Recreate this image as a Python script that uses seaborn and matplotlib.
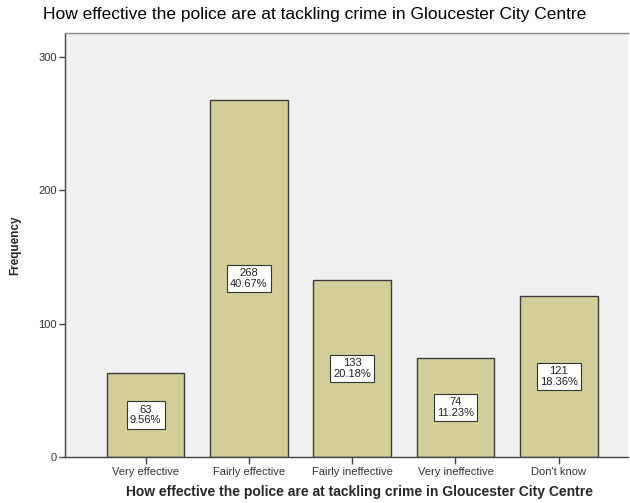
import pandas as pd
import matplotlib
matplotlib.use("Agg")
import matplotlib.pyplot as plt
import seaborn as sns

# data
categories = ["Very effective", "Fairly effective", "Fairly ineffective",
              "Very ineffective", "Don't know"]
counts = [63, 268, 133, 74, 121]
percents = ["9.56%", "40.67%", "20.18%", "11.23%", "18.36%"]

title = "How effective the police are at tackling crime in Gloucester City Centre"

df = pd.DataFrame({"Category": categories, "Frequency": counts})

sns.set_theme(style="white")
plt.rcParams["font.family"] = ["Liberation Sans", "DejaVu Sans"]

fig = plt.figure(figsize=(6.3, 5.03), dpi=100)
ax = fig.add_axes([65 / 630, 46 / 503, 563 / 630, 424 / 503])
ax.set_facecolor("#F0F0F0")

sns.barplot(data=df, x="Category", y="Frequency", order=categories,
            color="#D3CE97", saturation=1, width=0.75,
            edgecolor="#3A3A3A", linewidth=1.0, ax=ax)

# count / percent boxes in the middle of each bar
for i, (c, p) in enumerate(zip(counts, percents)):
    ax.text(i, c / 2, f"{c}\n{p}", ha="center", va="center",
            fontsize=8, color="#222222", linespacing=1.1,
            bbox=dict(boxstyle="square,pad=0.3", fc="white", ec="#333333", lw=0.8))

ax.set_xlim(-0.78, 4.67)
ax.set_ylim(0, 318)
ax.set_yticks([0, 100, 200, 300])

ax.spines["right"].set_visible(False)
ax.spines["top"].set_color("#888888")
ax.spines["left"].set_color("#444444")
ax.spines["bottom"].set_color("#444444")
for s in ["top", "left", "bottom"]:
    ax.spines[s].set_linewidth(1.0)

ax.tick_params(axis="both", direction="out", length=4, width=1,
               color="#444444", labelsize=8, labelcolor="#333333", pad=2)
ax.tick_params(axis="x", length=5, bottom=True)
ax.tick_params(axis="y", left=True)

ax.set_xlabel(title, fontsize=10, fontweight="bold", labelpad=7)
ax.xaxis.set_label_coords((360 - 65) / 563, -0.065)
ax.set_ylabel("Frequency", fontsize=8.5, fontweight="bold", labelpad=12)
fig.text(0.5, 1 - 14 / 503, title, ha="center", va="center", fontsize=12.5,
         color="black")

fig.savefig("out.png", dpi=100, facecolor="white")
